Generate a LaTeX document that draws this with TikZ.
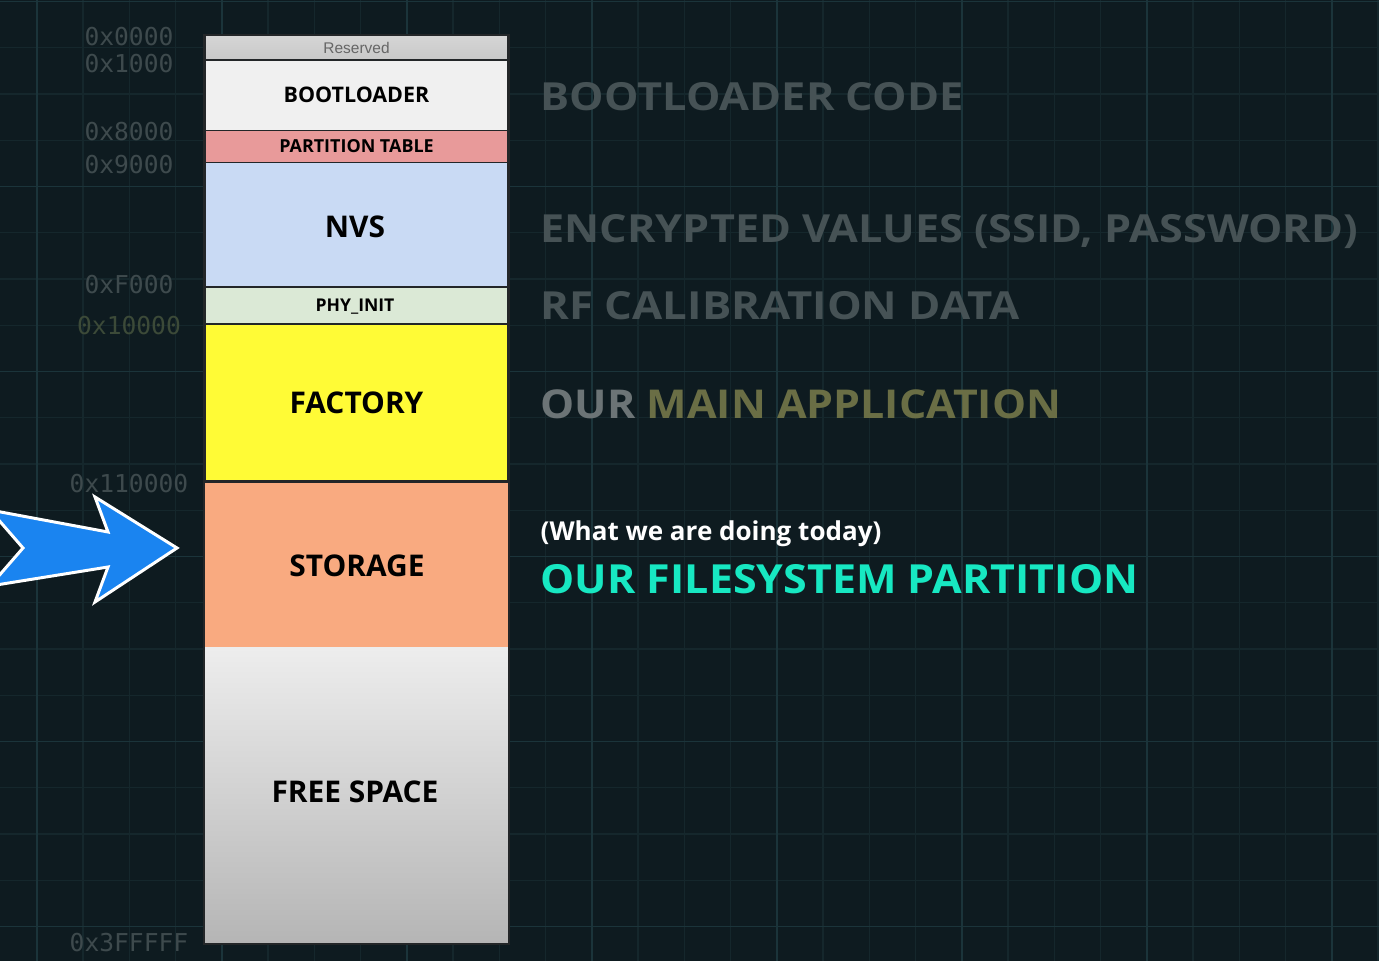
\documentclass[tikz,border=0pt]{standalone}
\usepackage{graphicx}
\usepackage{fontspec}
\newfontfamily\osans{Open Sans}
\newfontfamily\monof{DejaVu Sans Mono}
\newfontfamily\arialf{Liberation Sans}
\definecolor{bgc}{RGB}{14,27,32}
\definecolor{minorc}{RGB}{21,39,44}
\definecolor{majorc}{RGB}{27,52,58}
\definecolor{addrc}{RGB}{62,74,77}
\definecolor{addrg}{RGB}{60,74,56}
\definecolor{labc}{RGB}{70,82,85}
\definecolor{ourc}{RGB}{108,116,118}
\definecolor{olivec}{RGB}{106,110,69}
\definecolor{tealc}{RGB}{23,232,194}
\definecolor{edgec}{RGB}{35,38,40}
\definecolor{resc}{RGB}{200,200,200}
\definecolor{bootc}{RGB}{240,240,240}
\definecolor{ptc}{RGB}{232,154,154}
\definecolor{nvsc}{RGB}{201,218,244}
\definecolor{phyc}{RGB}{219,233,214}
\definecolor{facc}{RGB}{255,251,54}
\definecolor{stoc}{RGB}{249,170,128}
\definecolor{arrowc}{RGB}{26,132,240}
\tikzset{
  part/.style={draw=edgec, line width=0.5pt, minimum width=3.03cm, inner sep=0pt, font=\osans\bfseries, text=black},
  addr/.style={font=\monof\fontsize{7}{8}\selectfont, text=addrc, inner sep=0pt, anchor=base},
  rlab/.style={font=\osans\bfseries\fontsize{11}{13}\selectfont, text=labc, inner sep=0pt, anchor=base west},
}
\begin{document}
\begin{tikzpicture}[x=0.01cm,y=-0.01cm]
\useasboundingbox (0,0) rectangle (1379,961);
\fill[bgc] (0,0) rectangle (1379,961);
% grid
\foreach \i in {0,...,30} {\draw[minorc, line width=0.35pt] ({-9.55+46.25*\i},0) -- ++(0,961);}
\foreach \i in {0,...,21} {\draw[minorc, line width=0.35pt] (0,{1.5+46.25*\i}) -- ++(1379,0);}
\foreach \i in {0,...,7} {\draw[majorc, line width=0.5pt] ({36.7+185*\i},0) -- ++(0,961);}
\foreach \i in {0,...,5} {\draw[majorc, line width=0.5pt] (0,{1.5+185*\i}) -- ++(1379,0);}

% address labels
\node[addr] (a0) at (129,46) {0x0000};
\node[addr] (a1) at (129,73) {0x1000};
\node[addr] (a8) at (129,141) {0x8000};
\node[addr] (a9) at (129,174) {0x9000};
\node[addr] (af) at (129,294) {0xF000};
\node[addr, text=addrg] (a10) at (129,335) {0x10000};
\node[addr] (a110) at (129,492) {0x110000};
\node[addr] (a3f) at (129,951) {0x3FFFFF};

% partition column
\node[part, minimum height=0.25cm, top color=resc!75!white, bottom color=resc, font=\arialf\fontsize{4.4}{5}\selectfont, text=black!60] (res) at (356.5,47.5) {Reserved};
\node[part, minimum height=0.705cm, fill=bootc, font=\osans\bfseries\fontsize{6.1}{7}\selectfont] (boot) at (356.5,95.25) {BOOTLOADER};
\node[part, minimum height=0.32cm, fill=ptc, font=\osans\bfseries\fontsize{5.1}{6}\selectfont] (pt) at (356.5,146.5) {PARTITION TABLE};
\node[part, minimum height=1.245cm, fill=nvsc] (nvs) at (356.5,224.75) {};
\node[font=\osans\bfseries\fontsize{8.5}{10}\selectfont, inner sep=0pt] (nvst) at (355,227) {NVS};
\node[part, minimum height=0.37cm, fill=phyc] (phy) at (356.5,305.5) {};
\node[font=\osans\bfseries\fontsize{5.0}{6}\selectfont, inner sep=0pt] (phyt) at (355,306.5) {PHY\_INIT};
\node[part, minimum height=1.57cm, fill=facc, font=\osans\bfseries\fontsize{8.5}{10}\selectfont] (fac) at (356.5,402.5) {FACTORY};
\node[part, minimum height=1.665cm, fill=stoc, draw=none] (sto) at (356.5,564.25) {};
\node[font=\osans\bfseries\fontsize{8.5}{10}\selectfont, inner sep=0pt] (stot) at (357,566) {STORAGE};
\node[part, minimum height=2.955cm, draw=none, top color=black!7, bottom color=black!29] (free) at (356.5,795.25) {};
\node[font=\osans\bfseries\fontsize{8.5}{10}\selectfont, inner sep=0pt] (freet) at (355,791.5) {FREE SPACE};
\draw[edgec, line width=0.5pt] (res.north west) -- (free.south west) -- (free.south east) -- (res.north east);
\draw[edgec, line width=0.5pt] (fac.south west) -- (fac.south east);

% arrow
\draw[fill=arrowc, draw=white, line width=0.85pt, line join=miter]
  (-10,510) -- (108,532) -- (95,497) -- (177,548) -- (95,602) -- (108,567) -- (-10,586) -- (23,548) -- cycle;

% right labels
\node[rlab] (l1) at (540,111) {\scalebox{1.12}[1]{BOOTLOADER CODE}};
\node[rlab] (l2) at (540,243) {\scalebox{1.116}[1]{ENCRYPTED VALUES (SSID, PASSWORD)}};
\node[rlab] (l3) at (540,320) {\scalebox{1.13}[1]{RF CALIBRATION DATA}};
\node[rlab, font=\osans\bfseries\fontsize{11.3}{13}\selectfont] (l4) at (540,419) {\scalebox{1.08}[1]{{\color{ourc}OUR} {\color{olivec}MAIN APPLICATION}}};
\node[rlab, text=white, font=\osans\bfseries\fontsize{7.4}{9}\selectfont] (l5) at (540,541) {(What we are doing today)};
\node[rlab, text=tealc, font=\osans\bfseries\fontsize{11.4}{13}\selectfont] (l6) at (540,593) {\scalebox{1.072}[1]{OUR FILESYSTEM PARTITION}};
\end{tikzpicture}
\end{document}
